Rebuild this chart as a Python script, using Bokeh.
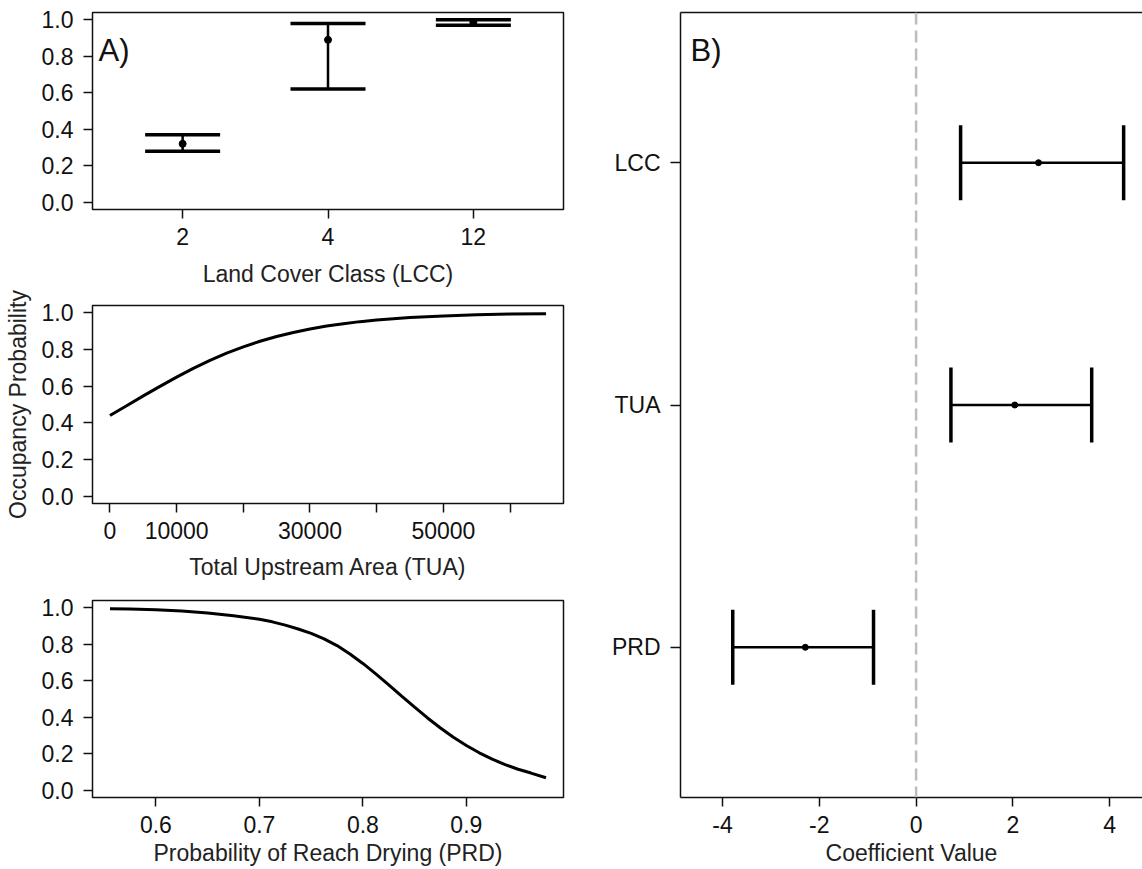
from bokeh.plotting import figure
from bokeh.models import (Range1d, FixedTicker, PrintfTickFormatter, Whisker, TeeHead,
                          ColumnDataSource, Span, Label, LinearAxis)
from bokeh.layouts import row, column
from bokeh.embed import file_html
from bokeh.resources import INLINE

FONT = "Liberation Sans"
INK = "#111111"

# ---------------- data ----------------
lcc_classes = ["2", "4", "12"]
lcc_mean = [0.32, 0.89, 0.985]
lcc_lower = [0.28, 0.62, 0.97]
lcc_upper = [0.37, 0.98, 1.00]

tua_x = [0, 2500, 5000, 7500, 10000, 12500, 15000, 17500, 20000, 22500, 25000,
         27500, 30000, 32500, 35000, 37500, 40000, 45000, 50000, 55000, 60000, 65400]
tua_y = [0.44, 0.493, 0.547, 0.599, 0.649, 0.697, 0.741, 0.780, 0.814, 0.845, 0.871,
         0.893, 0.912, 0.928, 0.941, 0.952, 0.961, 0.974, 0.983, 0.989, 0.993, 0.995]
tua_labelled_ticks = [0, 10000, 30000, 50000]
tua_unlabelled_ticks = [20000, 40000, 60000]

prd_x = [0.5556, 0.575, 0.6, 0.625, 0.65, 0.675, 0.7, 0.7125, 0.725, 0.7375, 0.75,
         0.7625, 0.775, 0.7875, 0.8, 0.8125, 0.825, 0.8375, 0.85, 0.8625, 0.875,
         0.8875, 0.9, 0.9125, 0.925, 0.9375, 0.95, 0.9625, 0.977]
prd_y = [0.995, 0.993, 0.989, 0.982, 0.972, 0.957, 0.937, 0.923, 0.905, 0.884, 0.86,
         0.83, 0.793, 0.747, 0.695, 0.638, 0.578, 0.516, 0.455, 0.396, 0.341,
         0.29, 0.245, 0.205, 0.17, 0.14, 0.115, 0.094, 0.068]
prd_ticks = [0.6, 0.7, 0.8, 0.9]

prob_ticks = [0.0, 0.2, 0.4, 0.6, 0.8, 1.0]

coef_names = ["LCC", "TUA", "PRD"]
coef_mean = [2.53, 2.04, -2.29]
coef_lower = [0.92, 0.72, -3.79]
coef_upper = [4.29, 3.63, -0.88]
coef_ticks = [-4, -2, 0, 2, 4]


def style_axis(ax):
    ax.major_label_text_font = FONT
    ax.major_label_text_font_size = "23px"
    ax.major_label_text_color = INK
    ax.axis_label_text_font = FONT
    ax.axis_label_text_font_size = "23px"
    ax.axis_label_text_font_style = "normal"
    ax.axis_label_text_color = "#222222"
    ax.major_tick_out = 9
    ax.major_tick_in = 0
    ax.minor_tick_out = 0
    ax.minor_tick_in = 0
    ax.major_tick_line_width = 1.5
    ax.major_tick_line_color = INK
    ax.minor_tick_line_width = 1.5
    ax.minor_tick_line_color = INK
    ax.axis_line_width = 1.5
    ax.axis_line_color = INK


def base_style(p):
    p.background_fill_color = "white"
    p.border_fill_color = "white"
    p.xgrid.visible = False
    p.ygrid.visible = False
    for ax in p.axis:
        style_axis(ax)


def left_panel(height, top, bottom, xr):
    p = figure(width=608, height=height, x_range=xr, y_range=Range1d(-0.04, 1.04),
               output_backend="svg", toolbar_location=None,
               min_border_left=92, min_border_right=45,
               min_border_top=top, min_border_bottom=bottom)
    base_style(p)
    p.outline_line_color = INK
    p.outline_line_width = 1.5
    p.outline_line_alpha = 1.0
    for ax in p.axis:
        ax.axis_line_color = None
    p.xaxis.major_label_standoff = 9
    p.yaxis.major_label_standoff = 10
    p.yaxis.ticker = FixedTicker(ticks=prob_ticks)
    p.yaxis.formatter = PrintfTickFormatter(format="%.1f")
    return p


# ---------------- panel A1: LCC ----------------
lcc_pos = list(range(1, len(lcc_classes) + 1))
p1 = left_panel(289, 12, 80, Range1d(0.38, 3.62))
p1.xaxis.ticker = FixedTicker(ticks=lcc_pos)
p1.xaxis.major_label_overrides = {pos: lab for pos, lab in zip(lcc_pos, lcc_classes)}
p1.xaxis.axis_label = "Land Cover Class (LCC)"
p1.xaxis.axis_label_standoff = 13
src1 = ColumnDataSource(dict(base=lcc_pos, lower=lcc_lower, upper=lcc_upper, mean=lcc_mean))
w1 = Whisker(base="base", lower="lower", upper="upper", source=src1, dimension="height",
             line_width=2.5, line_color="black",
             upper_head=TeeHead(size=75, line_width=3.5, line_color="black"),
             lower_head=TeeHead(size=75, line_width=3.5, line_color="black"))
p1.add_layout(w1)
p1.scatter("base", "mean", source=src1, size=7, color="black")
p1.add_layout(Label(x=0.38, y=1.04, x_offset=6, y_offset=-20, text="A)",
                    text_font=FONT, text_font_size="31px", text_color=INK,
                    text_baseline="top", text_align="left"))

# ---------------- panel A2: TUA ----------------
p2 = left_panel(296, 16, 82, Range1d(-2616, 68016))
p2.line(tua_x, tua_y, line_width=3, color="black")
p2.xaxis.ticker = FixedTicker(ticks=tua_labelled_ticks, minor_ticks=tua_unlabelled_ticks)
p2.xaxis.minor_tick_out = 9
p2.xaxis.formatter = PrintfTickFormatter(format="%d")
p2.xaxis.axis_label = "Total Upstream Area (TUA)"
p2.xaxis.axis_label_standoff = 12
p2.yaxis.axis_label = "Occupancy Probability"
p2.yaxis.axis_label_standoff = 8

# ---------------- panel A3: PRD ----------------
p3 = left_panel(284, 15, 72, Range1d(0.5387, 0.9939))
p3.line(prd_x, prd_y, line_width=3, color="black")
p3.xaxis.ticker = FixedTicker(ticks=prd_ticks)
p3.xaxis.formatter = PrintfTickFormatter(format="%.1f")
p3.xaxis.axis_label = "Probability of Reach Drying (PRD)"
p3.xaxis.axis_label_standoff = 4

# ---------------- panel B: coefficients ----------------
coef_pos = [len(coef_names) - i for i in range(len(coef_names))]
p4 = figure(width=534, height=869, x_range=Range1d(-4.87, 4.68), y_range=Range1d(0.38, 3.62),
            output_backend="svg", toolbar_location=None,
            min_border_left=71, min_border_right=0, min_border_top=12, min_border_bottom=72)
base_style(p4)
p4.outline_line_color = None
top_axis = LinearAxis(ticker=FixedTicker(ticks=[]), axis_line_width=1.5, axis_line_color=INK,
                      major_tick_out=0, major_tick_in=0, minor_tick_out=0, minor_tick_in=0,
                      major_label_standoff=0, major_label_text_font_size="1px")
p4.add_layout(top_axis, "above")
yax = p4.left[0]
yax.ticker = FixedTicker(ticks=coef_pos)
yax.major_label_overrides = {pos: lab for pos, lab in zip(coef_pos, coef_names)}
yax.major_tick_out = 10
yax.major_label_standoff = 10
xax = p4.below[0]
xax.ticker = FixedTicker(ticks=coef_ticks)
xax.major_label_overrides = {t: str(t) for t in coef_ticks}
xax.major_label_standoff = 9
xax.axis_label = "Coefficient Value"
xax.axis_label_standoff = 4
p4.add_layout(Span(location=0, dimension="height", line_color="#bdbdbd",
                   line_width=2.5, line_dash="12 6"))
src4 = ColumnDataSource(dict(base=coef_pos, lower=coef_lower, upper=coef_upper, mean=coef_mean))
w4 = Whisker(base="base", lower="lower", upper="upper", source=src4, dimension="width",
             line_width=2.5, line_color="black",
             upper_head=TeeHead(size=75, line_width=3.5, line_color="black"),
             lower_head=TeeHead(size=75, line_width=3.5, line_color="black"))
p4.add_layout(w4)
p4.scatter("mean", "base", source=src4, size=6, color="black")
p4.add_layout(Label(x=-4.87, y=3.62, x_offset=10, y_offset=-20, text="B)",
                    text_font=FONT, text_font_size="31px", text_color=INK,
                    text_baseline="top", text_align="left"))

layout = row(column(p1, p2, p3), p4)
open("out.html", "w").write(file_html(layout, INLINE))
